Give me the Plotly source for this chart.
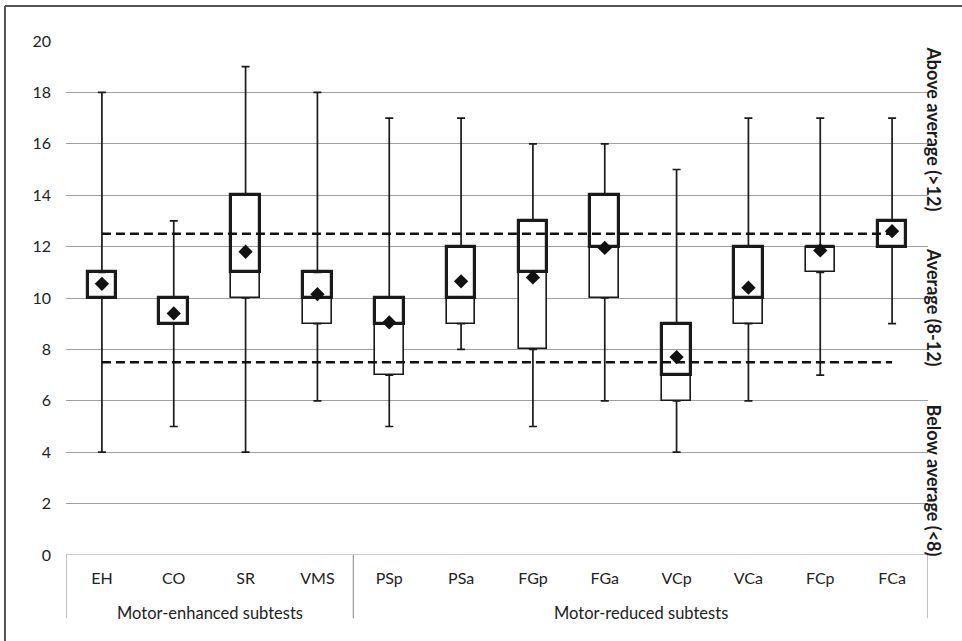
import plotly.graph_objects as go

categories = ["EH", "CO", "SR", "VMS", "PSp", "PSa", "FGp", "FGa", "VCp", "VCa", "FCp", "FCa"]
mins    = [4, 5, 4, 6, 5, 8, 5, 6, 4, 6, 7, 9]
q1      = [10, 9, 10, 9, 7, 9, 8, 10, 6, 9, 11, 12]
medians = [10, 9, 11, 10, 9, 10, 11, 12, 7, 10, 12, 12]
q3      = [11, 10, 14, 11, 10, 12, 13, 14, 9, 12, 12, 13]
maxs    = [18, 13, 19, 18, 17, 17, 16, 16, 15, 17, 17, 17]
means   = [10.55, 9.4, 11.8, 10.15, 9.05, 10.65, 10.8, 11.95, 7.7, 10.4, 11.85, 12.6]
upper_cut = 12.5
lower_cut = 7.5
groups = ["Motor-enhanced subtests", "Motor-reduced subtests"]
group_sizes = [4, 8]
band_labels = ["Above average (>12)", "Average (8-12)", "Below average (<8)"]
band_centers = [16.6, 9.65, 2.9]

FONT = "Lato, Open Sans, sans-serif"
TXT = "#222222"
xs = list(range(len(categories)))

fig = go.Figure()

# whiskers (as error bars from box edges)
fig.add_trace(go.Scatter(
    x=xs, y=q3, mode="markers", marker=dict(size=0.1, color="rgba(0,0,0,0)"),
    error_y=dict(type="data", symmetric=False,
                 array=[m - q for m, q in zip(maxs, q3)],
                 arrayminus=[0] * len(xs), color="#1a1a1a", thickness=1.7, width=4),
    hoverinfo="skip", showlegend=False))
fig.add_trace(go.Scatter(
    x=xs, y=q1, mode="markers", marker=dict(size=0.1, color="rgba(0,0,0,0)"),
    error_y=dict(type="data", symmetric=False,
                 array=[0] * len(xs),
                 arrayminus=[q - m for q, m in zip(q1, mins)], color="#1a1a1a", thickness=1.7, width=4),
    hoverinfo="skip", showlegend=False))

# lower box (Q1 -> median), thin outline
fig.add_trace(go.Bar(
    x=xs, y=[m - q for m, q in zip(medians, q1)], base=q1, width=0.4,
    marker=dict(color="white", line=dict(color="#1a1a1a", width=1.6)),
    showlegend=False, hoverinfo="skip"))
# upper box (median -> Q3), thick outline
fig.add_trace(go.Bar(
    x=xs, y=[q - m for q, m in zip(q3, medians)], base=medians, width=0.4,
    marker=dict(color="rgba(255,255,255,0)", line=dict(color="#1a1a1a", width=3.2)),
    showlegend=False, hoverinfo="skip"))

# cut-off dashed lines
for v in (upper_cut, lower_cut):
    fig.add_trace(go.Scatter(
        x=xs, y=[v] * len(xs), mode="lines",
        line=dict(color="#111111", width=2.4, dash="9px,5px"),
        showlegend=False, hoverinfo="skip"))

# means
fig.add_trace(go.Scatter(
    x=xs, y=means, mode="markers",
    marker=dict(symbol="diamond", size=11, color="#111111"),
    showlegend=False, hoverinfo="skip"))

fig.update_layout(
    width=962, height=641,
    margin=dict(l=66, r=34, t=41, b=86),
    paper_bgcolor="white", plot_bgcolor="white",
    barmode="overlay", bargap=0,
    font=dict(family=FONT, color=TXT, size=16),
    xaxis=dict(range=[-0.5, 11.5], tickmode="array", tickvals=xs, ticktext=categories,
               showgrid=False, zeroline=False, showline=False, ticks="",
               ticklabelstandoff=12, tickfont=dict(size=16, color=TXT)),
    yaxis=dict(range=[0, 20], dtick=2, showgrid=True, gridcolor="#a0a0a0", gridwidth=1.2,
               zeroline=False, showline=False, ticks="", ticklabelstandoff=14,
               tickfont=dict(size=16, color=TXT)),
)

# category table lines
line_c = "#9a9a9a"
fig.add_shape(type="line", xref="x", yref="y", x0=-0.5, x1=11.5, y0=0, y1=0,
              line=dict(color=line_c, width=1.2))
bounds = [-0.5]
acc = -0.5
for s in group_sizes:
    acc += s
    bounds.append(acc)
for b in bounds:
    fig.add_shape(type="line", xref="x", yref="paper", x0=b, x1=b, y0=0, y1=-0.123,
                  line=dict(color=line_c, width=1.2))
start = -0.5
for g, s in zip(groups, group_sizes):
    fig.add_annotation(x=start + s / 2, y=-0.113, xref="x", yref="paper", text=g,
                       showarrow=False, font=dict(size=16.5, color=TXT),
                       xanchor="center", yanchor="middle")
    start += s

# band labels on the right
for t, c in zip(band_labels, band_centers):
    fig.add_annotation(x=1, xshift=6, y=c, xref="paper", yref="y", text="<b>" + t + "</b>",
                       textangle=90, showarrow=False, xanchor="center", yanchor="middle",
                       font=dict(size=18, color="#1a1a1a"))

# outer frame (top and left edges)
fig.add_shape(type="line", xref="paper", yref="paper", x0=-0.0708, x1=1.05, y0=1.068, y1=1.068,
              line=dict(color="#555555", width=2))
fig.add_shape(type="line", xref="paper", yref="paper", x0=-0.0708, x1=-0.0708, y0=1.068, y1=-0.2,
              line=dict(color="#555555", width=2))

fig.write_html("out.html", config={"displayModeBar": False},
               post_script="document.body.style.margin='0';")
